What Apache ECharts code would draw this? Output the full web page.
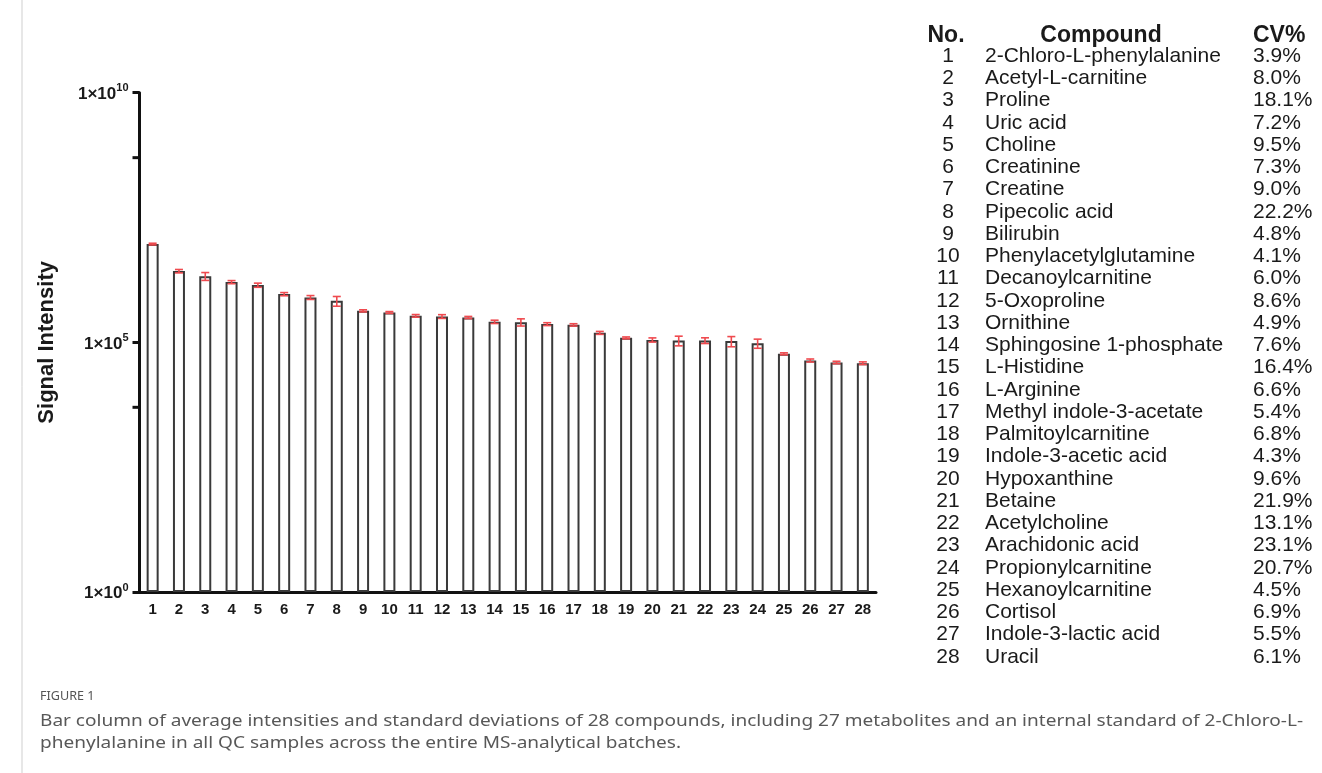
<!DOCTYPE html>
<html><head><meta charset="utf-8">
<script src="https://cdn.jsdelivr.net/npm/echarts@6/dist/echarts.min.js"></script>
<style>html,body{margin:0;padding:0;background:#fff}#c{width:1322px;height:773px}</style>
</head><body><div id="c"></div>
<script>
const categories = ['1','2','3','4','5','6','7','8','9','10','11','12','13','14','15','16','17','18','19','20','21','22','23','24','25','26','27','28'];
const meanIntensity = [9.3e6, 2.67e6, 2.12e6, 1.61e6, 1.40e6, 9.25e5, 7.94e5, 6.79e5, 4.28e5, 3.97e5, 3.40e5, 3.30e5, 3.15e5, 2.58e5, 2.54e5, 2.32e5, 2.24e5, 1.55e5, 1.23e5, 1.12e5, 1.09e5, 1.09e5, 1.06e5, 9.6e4, 5.9e4, 4.34e4, 3.96e4, 3.83e4];
const sdIntensity = [3.6e5, 2.1e5, 3.8e5, 1.16e5, 1.33e5, 6.8e4, 7.1e4, 1.5e5, 2.05e4, 1.63e4, 2.04e4, 2.84e4, 1.54e4, 1.96e4, 4.17e4, 1.53e4, 1.21e4, 1.05e4, 5.3e3, 1.08e4, 2.39e4, 1.43e4, 2.45e4, 1.99e4, 2.66e3, 3.0e3, 2.18e3, 2.34e3];
const yTickExponents = [0, 5, 10];
const yMinorTicks = [5e8, 5e3];
const yAxisTitle = 'Signal Intensity';
const tableHeader = ['No.', 'Compound', 'CV%'];
const compoundNames = ['2-Chloro-L-phenylalanine','Acetyl-L-carnitine','Proline','Uric acid','Choline','Creatinine','Creatine','Pipecolic acid','Bilirubin','Phenylacetylglutamine','Decanoylcarnitine','5-Oxoproline','Ornithine','Sphingosine 1-phosphate','L-Histidine','L-Arginine','Methyl indole-3-acetate','Palmitoylcarnitine','Indole-3-acetic acid','Hypoxanthine','Betaine','Acetylcholine','Arachidonic acid','Propionylcarnitine','Hexanoylcarnitine','Cortisol','Indole-3-lactic acid','Uracil'];
const cvPercent = ['3.9%','8.0%','18.1%','7.2%','9.5%','7.3%','9.0%','22.2%','4.8%','4.1%','6.0%','8.6%','4.9%','7.6%','16.4%','6.6%','5.4%','6.8%','4.3%','9.6%','21.9%','13.1%','23.1%','20.7%','4.5%','6.9%','5.5%','6.1%'];
const captionTitle = 'FIGURE 1';
const captionLines = ['Bar column of average intensities and standard deviations of 28 compounds, including 27 metabolites and an internal standard of 2-Chloro-L-', 'phenylalanine in all QC samples across the entire MS-analytical batches.'];

const chart = echarts.init(document.getElementById('c'), null, {renderer: 'canvas'});
const AX = 'Liberation Sans, Arial, sans-serif';

const graphics = [];
graphics.push({type: 'line', shape: {x1: 22, y1: 0, x2: 22, y2: 773}, style: {stroke: '#cfcfcf', lineWidth: 1}, silent: true});
const hdrY = 36, row0 = 56, rowStep = 22.25;
const colNo = 948, colName = 985, colCv = 1253;
graphics.push({type: 'text', x: colNo - 2, y: hdrY, style: {text: tableHeader[0], font: 'bold 23px ' + AX, fill: '#1a1a1a', textAlign: 'center', textVerticalAlign: 'middle'}});
graphics.push({type: 'text', x: 1101, y: hdrY, style: {text: tableHeader[1], font: 'bold 23px ' + AX, fill: '#1a1a1a', textAlign: 'center', textVerticalAlign: 'middle'}});
graphics.push({type: 'text', x: colCv, y: hdrY, style: {text: tableHeader[2], font: 'bold 23px ' + AX, fill: '#1a1a1a', textAlign: 'left', textVerticalAlign: 'middle'}});
compoundNames.forEach((name, i) => {
  const y = row0 + i * rowStep;
  graphics.push({type: 'text', x: colNo, y: y, style: {text: categories[i], font: '21px ' + AX, fill: '#1a1a1a', textAlign: 'center', textVerticalAlign: 'middle'}});
  graphics.push({type: 'text', x: colName, y: y, style: {text: name, font: '21px ' + AX, fill: '#1a1a1a', textAlign: 'left', textVerticalAlign: 'middle'}});
  graphics.push({type: 'text', x: colCv, y: y, style: {text: cvPercent[i], font: '21px ' + AX, fill: '#1a1a1a', textAlign: 'left', textVerticalAlign: 'middle'}});
});
const CAP = '"Noto Sans", "Open Sans", sans-serif';
graphics.push({type: 'text', x: 40, y: 697, scaleX: 1.05, style: {text: captionTitle, font: '12px ' + CAP, fill: '#555', textAlign: 'left', textVerticalAlign: 'middle'}});
captionLines.forEach((t, i) => {
  graphics.push({type: 'text', x: 40, y: 721 + i * 22, scaleX: 1.12, style: {text: t, font: '17px ' + CAP, fill: '#585858', textAlign: 'left', textVerticalAlign: 'middle'}});
});

const option = {
  animation: false,
  backgroundColor: '#fff',
  grid: {left: 139.5, right: 446, top: 92.7, bottom: 181, containLabel: false},
  xAxis: {
    type: 'category', data: categories,
    axisLine: {onZero: false, lineStyle: {color: '#111', width: 3}},
    axisTick: {alignWithLabel: true, length: 5, lineStyle: {color: '#111', width: 3}},
    axisLabel: {color: '#1a1a1a', fontFamily: AX, fontWeight: 'bold', fontSize: 15, margin: 10}
  },
  yAxis: [
    {type: 'log', logBase: 10, min: 1, max: 1e10,
     axisLine: {show: true, lineStyle: {color: '#111', width: 3}},
     axisTick: {show: false}, axisLabel: {show: false}, splitLine: {show: false}, minorTick: {show: false}},
    {type: 'value', position: 'left',
     min: yTickExponents[0], max: yTickExponents[yTickExponents.length - 1], interval: yTickExponents[1] - yTickExponents[0],
     axisLine: {show: false},
     axisTick: {show: true, length: 7, lineStyle: {color: '#111', width: 3}},
     splitLine: {show: false},
     axisLabel: {margin: 11, formatter: v => '{b|1×10}{s|' + v + '}',
       rich: {b: {fontFamily: AX, fontWeight: 'bold', fontSize: 17, color: '#1a1a1a', lineHeight: 20, verticalAlign: 'bottom'},
              s: {fontFamily: AX, fontWeight: 'bold', fontSize: 11, color: '#1a1a1a', lineHeight: 20, verticalAlign: 'top'}}},
     name: yAxisTitle, nameLocation: 'middle', nameRotate: 90, nameGap: 82,
     nameTextStyle: {fontFamily: AX, fontWeight: 'bold', fontSize: 22, color: '#1a1a1a'}}
  ],
  series: [
    {type: 'bar', yAxisIndex: 0, data: meanIntensity, barWidth: 12,
     itemStyle: {color: '#ffffff', borderColor: '#3a3a3a', borderWidth: 2}, z: 2},
    {type: 'custom', yAxisIndex: 0, z: 3, clip: false,
     data: meanIntensity.map((m, i) => [i, m - sdIntensity[i], m + sdIntensity[i]]),
     encode: {x: 0, y: [1, 2]},
     renderItem: (params, api) => {
       const lo = api.coord([api.value(0), api.value(1)]);
       const hi = api.coord([api.value(0), api.value(2)]);
       const w = 4;
       const st = {stroke: '#ef4a4f', lineWidth: 1.6};
       return {type: 'group', children: [
         {type: 'line', shape: {x1: lo[0], y1: lo[1], x2: hi[0], y2: hi[1]}, style: st},
         {type: 'line', shape: {x1: lo[0] - w, y1: lo[1], x2: lo[0] + w, y2: lo[1]}, style: st},
         {type: 'line', shape: {x1: hi[0] - w, y1: hi[1], x2: hi[0] + w, y2: hi[1]}, style: st}
       ]};
     }},
    {type: 'custom', yAxisIndex: 0, z: 4, clip: false,
     data: yMinorTicks.map(v => [0, v]),
     encode: {x: 0, y: 1},
     renderItem: (params, api) => {
       const p = api.coord([0, api.value(1)]);
       const left = p[0] - api.size([1, 0])[0] / 2;
       return {type: 'line', shape: {x1: left - 7, y1: p[1], x2: left, y2: p[1]}, style: {stroke: '#111', lineWidth: 3}};
     }}
  ],
  graphic: graphics
};
chart.setOption(option);
</script></body></html>
